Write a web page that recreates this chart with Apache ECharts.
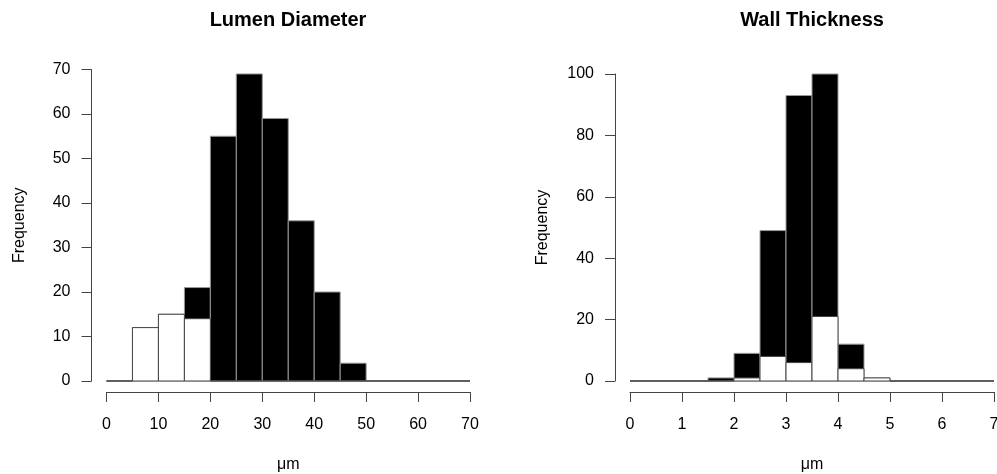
<!DOCTYPE html>
<html>
<head>
<meta charset="utf-8">
<script src="https://cdn.jsdelivr.net/npm/echarts@6/dist/echarts.min.js"></script>
<style>
  html, body { margin: 0; padding: 0; background: #fff; }
  #chart { width: 997px; height: 474px; }
</style>
</head>
<body>
<div id="chart"></div>
<script>
// lumen diameter histogram (bins of 5 um)
var lumenEdges = [0, 5, 10, 15, 20, 25, 30, 35, 40, 45, 50, 55, 60, 65, 70];
var lumenAll = [0, 12, 15, 21, 55, 69, 59, 36, 20, 4, 0, 0, 0, 0];
var lumenSub = [0, 12, 15, 14, 0, 0, 0, 0, 0, 0, 0, 0, 0, 0];

// wall thickness histogram (bins of 0.5 um)
var wallEdges = [0, 0.5, 1, 1.5, 2, 2.5, 3, 3.5, 4, 4.5, 5, 5.5, 6, 6.5, 7];
var wallAll = [0, 0, 0, 1, 9, 49, 93, 100, 12, 1, 0, 0, 0, 0];
var wallSub = [0, 0, 0, 0, 1, 8, 6, 21, 4, 1, 0, 0, 0, 0];

var font = 'Liberation Sans, Arial, sans-serif';

function bins(edges, counts) {
    var out = [];
    for (var i = 0; i < counts.length; i++) {
        out.push([edges[i], edges[i + 1], counts[i]]);
    }
    return out;
}

function histSeries(idx, data, fill, stroke) {
    return {
        type: 'custom',
        xAxisIndex: idx,
        yAxisIndex: idx,
        encode: { x: [0, 1], y: 2 },
        data: data,
        renderItem: function (params, api) {
            var p0 = api.coord([api.value(0), 0]);
            var p1 = api.coord([api.value(1), api.value(2)]);
            return {
                type: 'rect',
                shape: { x: p0[0], y: p1[1], width: p1[0] - p0[0], height: p0[1] - p1[1] },
                style: { fill: fill, stroke: stroke, lineWidth: 1 }
            };
        }
    };
}

function xAx(idx, max, step) {
    return {
        gridIndex: idx, type: 'value', min: 0, max: max, interval: step,
        offset: 11,
        name: 'μm', nameLocation: 'middle', nameGap: 65, nameMoveOverlap: false,
        nameTextStyle: { fontFamily: font, fontSize: 16, color: '#000' },
        splitLine: { show: false },
        axisLine: { onZero: false, lineStyle: { color: '#444' } },
        axisTick: { length: 10, lineStyle: { color: '#444' } },
        axisLabel: { fontFamily: font, fontSize: 16, color: '#000', margin: 25 }
    };
}

function yAx(idx, max, step) {
    return {
        gridIndex: idx, type: 'value', min: 0, max: max, interval: step,
        offset: 15,
        name: 'Frequency', nameLocation: 'middle', nameGap: 64, nameMoveOverlap: false,
        nameTextStyle: { fontFamily: font, fontSize: 16, color: '#000' },
        splitLine: { show: false },
        axisLine: { show: true, onZero: false, lineStyle: { color: '#444' } },
        axisTick: { show: true, length: 10, lineStyle: { color: '#444' } },
        axisLabel: { fontFamily: font, fontSize: 16, color: '#000', margin: 21 }
    };
}

var chart = echarts.init(document.getElementById('chart'));
var option = {
    animation: false,
    backgroundColor: '#fff',
    title: [
        { text: 'Lumen Diameter', left: 283, top: 5, textAlign: 'center',
          textStyle: { fontFamily: font, fontSize: 20, fontWeight: 'bold', color: '#000' } },
        { text: 'Wall Thickness', left: 807, top: 5, textAlign: 'center',
          textStyle: { fontFamily: font, fontSize: 20, fontWeight: 'bold', color: '#000' } }
    ],
    grid: [
        { left: 106.5, top: 69.5, width: 363.5, height: 311.5, outerBoundsMode: 'none' },
        { left: 630, top: 74, width: 364, height: 307, outerBoundsMode: 'none' }
    ],
    xAxis: [xAx(0, 70, 10), xAx(1, 7, 1)],
    yAxis: [yAx(0, 70, 10), yAx(1, 100, 20)],
    series: [
        histSeries(0, bins(lumenEdges, lumenAll), '#000', '#999'),
        histSeries(0, bins(lumenEdges, lumenSub), '#fff', '#444'),
        histSeries(1, bins(wallEdges, wallAll), '#000', '#999'),
        histSeries(1, bins(wallEdges, wallSub), '#fff', '#444')
    ]
};
chart.setOption(option);
</script>
</body>
</html>
